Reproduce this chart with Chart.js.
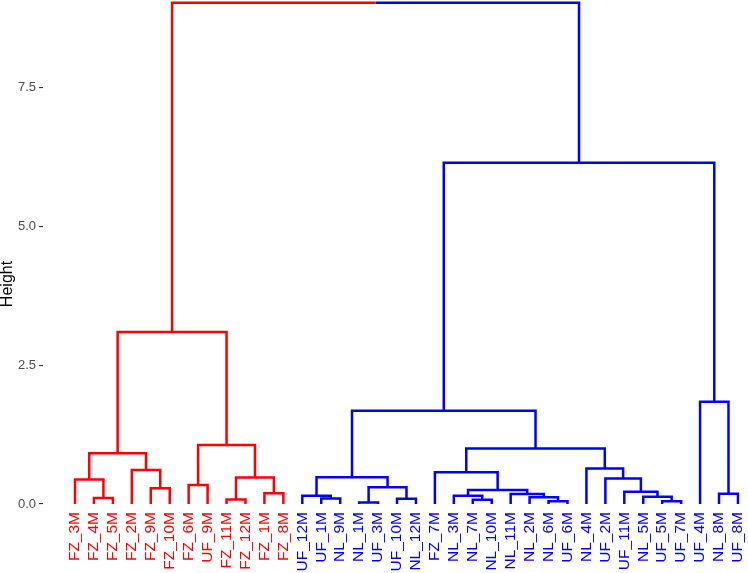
<!DOCTYPE html>
<html>
<head>
<meta charset="utf-8">
<script src="https://cdn.jsdelivr.net/npm/chart.js@4/dist/chart.umd.min.js"></script>
<style>
  html, body { margin: 0; padding: 0; background: #fff; }
  #box { width: 748px; height: 573px; }
</style>
</head>
<body>
<div id="box"><canvas id="myChart"></canvas></div>
<script>
'use strict'

// leaves, left to right as they appear under the tree
const leafLabels = [
  'FZ_3M', 'FZ_4M', 'FZ_5M', 'FZ_2M', 'FZ_9M', 'FZ_10M', 'FZ_6M', 'UF_9M',
  'FZ_11M', 'FZ_12M', 'FZ_1M', 'FZ_8M', 'UF_12M', 'UF_1M', 'NL_9M', 'NL_1M',
  'UF_3M', 'UF_10M', 'NL_12M', 'FZ_7M', 'NL_3M', 'NL_7M', 'NL_10M', 'NL_11M',
  'NL_2M', 'NL_6M', 'UF_6M', 'NL_4M', 'UF_2M', 'UF_11M', 'NL_5M', 'UF_5M',
  'UF_7M', 'UF_4M', 'NL_8M', 'UF_8M'
]

// merges like hclust: negative = leaf number, positive = earlier merge row
const mergeLeft = [
  -16, -26, -32, -22, -9, -18, -2, -14, -25, -31, -21, -13, -24, -35, -11, -30,
  11, -5, 1, -7, -1, -29, 5, 12, -20, -4, -28, 21, 25, 20, 24, -34, 28, 31, 33
]
const mergeRight = [
  -17, -27, -33, -23, -10, -19, -3, -15, 2, 3, 4, 8, 9, -36, -12, 10,
  13, -6, 6, -8, 7, 16, 15, 19, 17, 18, 22, 26, 27, 23, 29, 14, 30, 32, 34
]
const mergeHeight = [
  0.025, 0.05, 0.05, 0.075, 0.08, 0.095, 0.11, 0.10, 0.12, 0.13, 0.15, 0.15,
  0.18, 0.185, 0.195, 0.22, 0.25, 0.285, 0.30, 0.34, 0.44, 0.46, 0.475, 0.48,
  0.57, 0.61, 0.64, 0.915, 1.00, 1.06, 1.68, 1.84, 3.095, 6.14, 9.02
]

const yTicks = [0, 2.5, 5, 7.5]
const clusterColors = ['#FF0000', '#0000FF']

Chart.defaults.font.family = "'Liberation Sans', Arial, sans-serif"

const nodeX = []
const posOf = (id) => id < 0 ? -id : nodeX[id - 1]
const heightOf = (id) => id < 0 ? 0 : mergeHeight[id - 1]

mergeHeight.forEach((h, i) => {
  nodeX[i] = (posOf(mergeLeft[i]) + posOf(mergeRight[i])) / 2
})

// two clusters = the two branches of the last merge
const colorOf = {}
const paint = (id, c) => {
  colorOf[id] = c
  if (id > 0) {
    paint(mergeLeft[id - 1], c)
    paint(mergeRight[id - 1], c)
  }
}
const rootRow = mergeHeight.length
paint(mergeLeft[rootRow - 1], 0)
paint(mergeRight[rootRow - 1], 1)

// one elbow per child: up from the child, across to the parent's middle
const segs = clusterColors.map(() => [])
mergeHeight.forEach((h, i) => {
  [mergeLeft[i], mergeRight[i]].forEach((child) => {
    const pts = segs[colorOf[child]]
    pts.push({ x: posOf(child), y: heightOf(child) })
    pts.push({ x: posOf(child), y: h })
    pts.push({ x: nodeX[i], y: h })
    pts.push({ x: null, y: null })
  })
})

const heightTitle = {
  id: 'heightTitle',
  afterDraw: (chart) => {
    const c = chart.ctx
    c.save()
    c.translate(8, 284)
    c.rotate(-Math.PI / 2)
    c.font = "16px 'Liberation Sans', Arial, sans-serif"
    c.fillStyle = '#000000'
    c.textAlign = 'center'
    c.textBaseline = 'middle'
    c.fillText('Height', 0, 0)
    c.restore()
  }
}

const ctx = document.getElementById('myChart')

const myChart = new Chart(ctx, {
  type: 'scatter',
  data: {
    datasets: segs.map((pts, c) => ({
      data: pts,
      showLine: true,
      spanGaps: false,
      borderColor: clusterColors[c],
      borderWidth: 2.5,
      borderJoinStyle: 'miter',
      borderCapStyle: 'butt',
      pointRadius: 0
    }))
  },
  options: {
    responsive: true,
    maintainAspectRatio: false,
    animation: false,
    layout: { padding: 0 },
    plugins: {
      legend: { display: false },
      tooltip: { enabled: false }
    },
    scales: {
      x: {
        type: 'linear',
        min: -0.69,
        max: 36.53,
        afterBuildTicks: (s) => { s.ticks = leafLabels.map((_, i) => ({ value: i + 1 })) },
        afterFit: (s) => {
          s.height = 65
          s.paddingLeft = 0
          s.paddingRight = 0
        },
        grid: { display: false, drawTicks: false },
        border: { display: false },
        ticks: {
          autoSkip: false,
          minRotation: 90,
          maxRotation: 90,
          padding: 4,
          font: { size: 15.5 },
          color: (c) => clusterColors[colorOf[-(c.index + 1)]],
          callback: (v, i) => leafLabels[i]
        }
      },
      y: {
        min: -0.072,
        max: 9.071,
        afterBuildTicks: (s) => { s.ticks = yTicks.map((v) => ({ value: v })) },
        afterFit: (s) => {
          s.width = 43
          s.paddingTop = 0
          s.paddingBottom = 0
        },
        grid: {
          drawOnChartArea: false,
          drawTicks: true,
          tickLength: 4,
          color: '#333333',
          lineWidth: 1.1
        },
        border: { display: false },
        ticks: {
          padding: 3,
          color: '#4D4D4D',
          font: { size: 13 },
          callback: (v) => v.toFixed(1)
        }
      }
    }
  },
  plugins: [heightTitle]
})
</script>
</body>
</html>
